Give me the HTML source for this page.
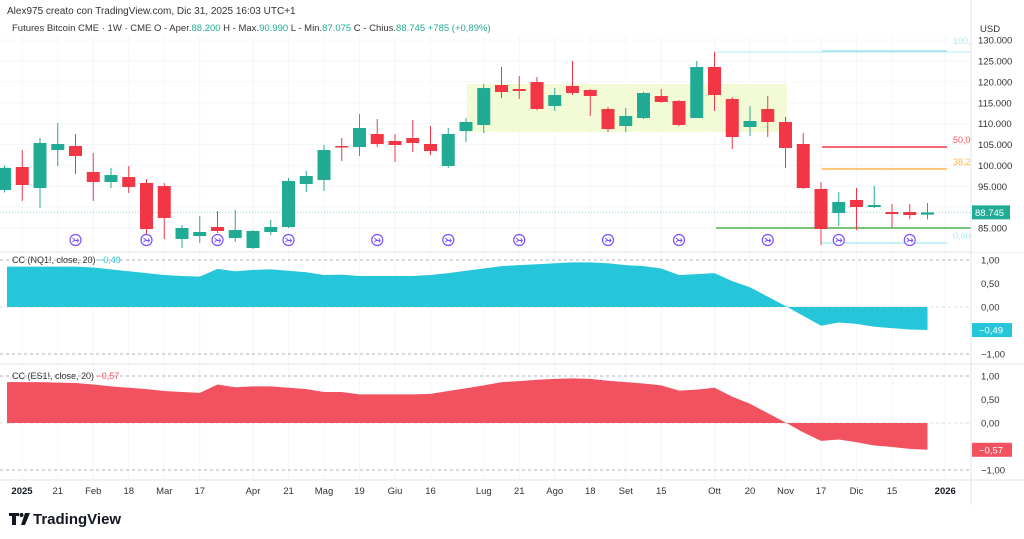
<!DOCTYPE html>
<html><head><meta charset="utf-8">
<style>
html,body{margin:0;padding:0;background:#fff;width:1024px;height:539px;overflow:hidden;font-family:"Liberation Sans",sans-serif;}
svg{display:block}
</style></head>
<body>
<svg id="chart" width="1024" height="539" xmlns="http://www.w3.org/2000/svg">
<rect x="0" y="0" width="1024" height="539" fill="#fff"/>
<text x="7" y="14" font-size="10" fill="#333">Alex975 creato con TradingView.com, Dic 31, 2025 16:03 UTC+1</text>
<text x="12" y="31" font-size="9.5" fill="#333">Futures Bitcoin CME · 1W · CME  O - Aper.<tspan fill="#22ab94">88.200</tspan>  H - Max.<tspan fill="#22ab94">90.990</tspan>  L - Min.<tspan fill="#22ab94">87.075</tspan>  C - Chius.<tspan fill="#22ab94">88.745  +785 (+0,89%)</tspan></text>
<g id="grid"></g>
<rect x="467" y="84" width="320" height="48" fill="#f3fbd6"/>
<g id="fib"></g>
<g id="candles"></g>
<g id="events"></g>
<g id="cc"></g>
<g id="axes"></g>
<g>
<path d="M9 513h10v3h-3v9h-4v-9h-3z M25 513h5l-5 12h-4z" fill="#131722"/>
<circle cx="21.5" cy="515" r="2" fill="#131722"/>
<text x="33" y="524" font-size="15" font-weight="bold" fill="#131722">TradingView</text>
</g>
</svg>
<script>
const opens  =[94100,99610,94580,103680,104640,98410,96020,97210,95780,95060,82370,83080,85240,82600,80210,84040,85240,95540,96500,104640,104400,107510,105840,106555,105120,99850,108230,109670,119250,118290,119970,114220,119010,118050,113500,109430,111350,116610,115420,111350,123560,115900,109190,113500,110390,105120,94340,88590,91710,90030,88830,88830,88200];
const highs  =[100000,103680,106555,110150,107510,102960,99370,99850,96740,95780,85720,87870,89070,89310,84520,86920,96980,98650,104880,106555,112300,111100,107510,110870,109430,108950,111350,119490,123560,121400,121160,118530,125000,118290,113980,113740,117570,118290,115660,125000,127150,116370,114220,116610,111580,107750,96020,93620,94580,95060,90750,90750,90990];
const lows   =[93500,91470,89790,99850,97930,91470,94580,93380,83080,82370,80210,81410,83800,81650,79970,83320,85000,93620,93860,101050,102245,104400,100800,103200,102480,99370,105600,107750,116130,115900,113260,113020,116850,111820,107990,107990,111100,114940,109430,111350,113020,103920,107030,106800,99370,94340,80930,85480,84520,89790,85000,87150,87075];
const closes =[99400,95300,105360,105120,102245,96020,97690,94820,84760,87400,85000,84040,84280,84520,84280,85240,96260,97450,103680,104400,108950,105120,104880,105360,103440,107510,110390,118530,117570,117810,113500,116850,117330,116610,108710,111820,117330,115180,109670,123560,116850,106800,110630,110390,104160,94580,84760,91230,90030,90510,88350,88110,88745];
const ccNQ = [0.86,0.86,0.86,0.86,0.86,0.84,0.80,0.76,0.72,0.68,0.66,0.645,0.81,0.76,0.79,0.80,0.77,0.74,0.68,0.69,0.66,0.66,0.66,0.66,0.68,0.72,0.77,0.82,0.87,0.89,0.91,0.93,0.95,0.95,0.93,0.89,0.87,0.82,0.68,0.70,0.72,0.55,0.42,0.22,0.02,-0.19,-0.40,-0.33,-0.36,-0.42,-0.45,-0.48,-0.49];
const ccES = [0.87,0.87,0.87,0.86,0.85,0.82,0.78,0.75,0.72,0.68,0.66,0.64,0.82,0.76,0.78,0.78,0.75,0.72,0.66,0.66,0.61,0.61,0.61,0.61,0.62,0.68,0.74,0.80,0.87,0.89,0.92,0.94,0.95,0.94,0.90,0.87,0.84,0.80,0.69,0.71,0.75,0.56,0.41,0.21,0.01,-0.20,-0.38,-0.35,-0.41,-0.48,-0.51,-0.55,-0.57];
const priceTicks=[130000,125000,120000,115000,110000,105000,100000,95000,85000];
const priceTickLabels=["130.000","125.000","120.000","115.000","110.000","105.000","100.000","95.000","85.000"];
const timeLabels=["2025","21","Feb","18","Mar","17","Apr","21","Mag","19","Giu","16","Lug","21","Ago","18","Set","15","Ott","20","Nov","17","Dic","15","2026"];
const timeLabelIdx=[1,3,5,7,9,11,14,16,18,20,22,24,27,29,31,33,35,37,40,42,44,46,48,50,53];
const ccTicks=[1,0.5,0,-1];
const ccTickLabels=["1,00","0,50","0,00","−1,00"];
const eventIdx=[4,8,12,16,21,25,29,34,38,43,47,51];
const NS="http://www.w3.org/2000/svg";
const xS=i=>4.5+i*17.75;
const yP=p=>228-(p-85000)*0.004175;
const yC1=v=>307-v*47, yC2=v=>423-v*47;
function mk(tag,attrs,parent){const e=document.createElementNS(NS,tag);for(const k in attrs)e.setAttribute(k,attrs[k]);parent.appendChild(e);return e;}
const grid=document.getElementById('grid'),cand=document.getElementById('candles'),ax=document.getElementById('axes'),fib=document.getElementById('fib'),ev=document.getElementById('events'),cc=document.getElementById('cc');
[130000,125000,120000,115000,110000,105000,100000,95000,90000,85000].forEach(p=>{const l=mk('line',{x1:0,x2:971,y1:yP(p),y2:yP(p),stroke:'#f5f6f9','stroke-width':1},grid);

});
timeLabelIdx.forEach(i=>{const l=mk('line',{x1:xS(i),x2:xS(i),y1:36,y2:480,stroke:'#f5f6f9','stroke-width':1},grid);

});
function fl(x1,x2,y,c,w,name){const l=mk('line',{x1:x1,x2:x2,y1:y,y2:y,stroke:c,'stroke-width':w},fib);

}
fl(716,971,52,'#b2ebf2',1,'fib-trend-line');
fl(822,947,51,'#a6e3ee',1.5,'fib-level-100');
fl(822,947,147,'#f23645',1.5,'fib-level-50');
fl(822,947,169,'#ffb74d',1.5,'fib-level-38');
fl(716,971,228,'#4caf50',1.5,'support-line');
fl(822,947,243,'#b2ebf2',1.5,'fib-level-0');
[["100,0",44,'#b2ebf2'],["50,0",143,'#f7525f'],["38,2",165,'#ffb74d'],["0,00",239,'#b2ebf2']].forEach(a=>{const t=mk('text',{x:953,y:a[1],'font-size':9,fill:a[2]},fib);t.textContent=a[0];

});
const cp=mk('line',{x1:0,x2:971,y1:yP(closes[52]),y2:yP(closes[52]),stroke:'#22ab94','stroke-width':0.8,'stroke-dasharray':'1 2',opacity:0.6},grid);


opens.forEach((o,i)=>{const c=closes[i],up=c>=o,col=up?'#22ab94':'#f23645',x=xS(i);
const g=mk('g',{},cand);


mk('line',{x1:x,x2:x,y1:yP(highs[i]),y2:yP(lows[i]),stroke:col,'stroke-width':1},g);
const t=yP(Math.max(o,c)),b=yP(Math.min(o,c));
mk('rect',{x:x-6.5,y:t,width:13,height:Math.max(1.5,b-t),fill:col},g);});
eventIdx.forEach(i=>{const g=mk('g',{},ev);


const x=xS(i);mk('circle',{cx:x,cy:240,r:5.5,fill:'#fff',stroke:'#7b4fff','stroke-width':1.2},g);
mk('path',{d:`M${x-3} ${238}l2.5 2l-2.5 2 M${x-1} ${240.5}h4 M${x+1.5} ${238.5}l1.5 2l-1.5 2`,stroke:'#7b4fff','stroke-width':1,fill:'none'},g);});
[252,364,480].forEach(y=>{const l=mk('line',{x1:0,x2:1024,y1:y,y2:y,stroke:'#e0e3eb','stroke-width':1},ax);

});
function pane(vals,yf,col,label,valLabel,top,name){
[1,0,-1].forEach(v=>{const l=mk('line',{x1:0,x2:971,y1:yf(v),y2:yf(v),stroke:v==0?'#d1d4dc':'#9598a1','stroke-width':0.8,'stroke-dasharray':'3 3'},cc);

});
let d=`M${7} ${yf(0)}`;vals.forEach((v,i)=>{d+=`L${Math.max(7,xS(i))} ${yf(v)}`;});d+=`L${xS(vals.length-1)} ${yf(0)}Z`;
const a=mk('path',{d:d,fill:col},cc);


const t=mk('text',{x:12,y:top,'font-size':9,fill:'#333'},cc);t.textContent=label+' ';
const s=mk('tspan',{fill:col},t);s.textContent=valLabel;


ccTicks.forEach((v,k)=>{const tt=mk('text',{x:981,y:yf(v)+3.5,'font-size':9.5,fill:'#333'},ax);tt.textContent=ccTickLabels[k];

});
const last=vals[vals.length-1];
const r=mk('rect',{x:972,y:yf(last)-7,width:40,height:14,fill:col},ax);


const bt=mk('text',{x:979,y:yf(last)+3.5,'font-size':9.5,fill:'#fff'},ax);bt.textContent=valLabel;


}
pane(ccNQ,yC1,'#26c6da','CC (NQ1!, close, 20)','−0,49',263,'cc-nq-area');
pane(ccES,yC2,'#f2525f','CC (ES1!, close, 20)','−0,57',379,'cc-es-area');
const bg=mk('rect',{x:971,y:36,width:53,height:216,fill:'#fff'},ax);


mk('line',{x1:971,x2:971,y1:0,y2:505,stroke:'#e0e3eb'},ax);
const usd=mk('text',{x:980,y:32,'font-size':9.5,fill:'#333'},ax);usd.textContent='USD';


priceTicks.forEach((p,k)=>{const t=mk('text',{x:978,y:yP(p)+3.5,'font-size':9.5,fill:'#333'},ax);t.textContent=priceTickLabels[k];

});
const pb=mk('rect',{x:972,y:yP(closes[52])-7,width:38,height:14,fill:'#22ab94'},ax);


const pt=mk('text',{x:975,y:yP(closes[52])+3.5,'font-size':9.5,fill:'#fff'},ax);pt.textContent='88.745';


timeLabels.forEach((s,k)=>{const bold=(s=='2025'||s=='2026');const t=mk('text',{x:xS(timeLabelIdx[k]),y:494,'font-size':9.5,fill:bold?'#131722':'#333','font-weight':bold?'bold':'normal','text-anchor':'middle'},ax);t.textContent=s;
if(k==0)t.setAttribute('x',22);

});
</script>
</body></html>
